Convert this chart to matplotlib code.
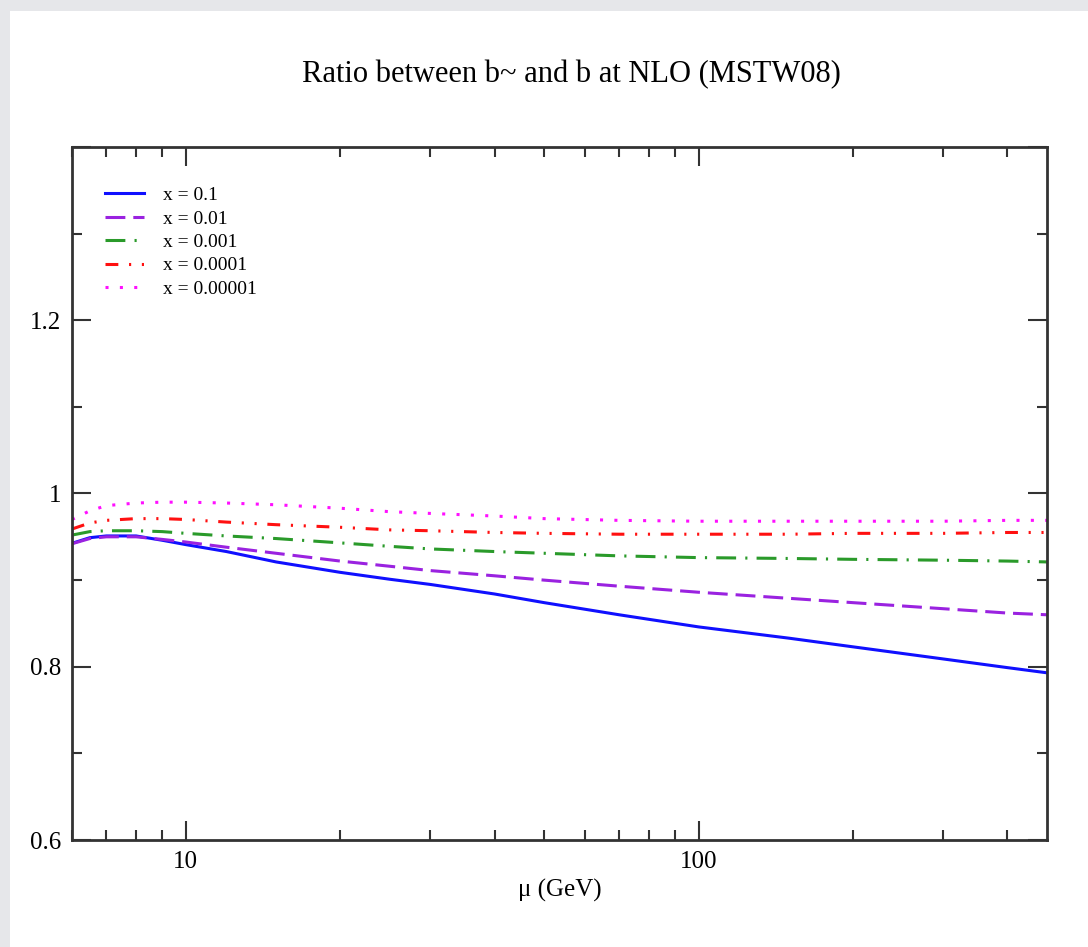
import numpy as np
import matplotlib.pyplot as plt
from matplotlib.patches import Rectangle
from matplotlib.ticker import LogLocator, NullFormatter, FixedLocator, MultipleLocator

plt.rcParams["font.family"] = ["Liberation Serif", "DejaVu Serif"]

# scale mu (GeV) and ratio b~/b for each x value
mu = [6, 6.5, 7, 8, 9, 10, 12, 15, 20, 25, 30, 40, 50, 70, 100, 150, 200, 300, 400, 478]
r_x01 = [0.9425, 0.949, 0.951, 0.951, 0.946, 0.941, 0.933, 0.921, 0.909, 0.901, 0.895,
         0.884, 0.874, 0.860, 0.846, 0.833, 0.823, 0.809, 0.799, 0.793]
r_x001 = [0.942, 0.948, 0.950, 0.950, 0.947, 0.944, 0.938, 0.931, 0.922, 0.916, 0.911,
          0.905, 0.900, 0.893, 0.886, 0.879, 0.874, 0.867, 0.862, 0.860]
r_x0001 = [0.952, 0.956, 0.957, 0.957, 0.956, 0.954, 0.951, 0.948, 0.943, 0.939, 0.936,
           0.933, 0.931, 0.928, 0.926, 0.925, 0.924, 0.923, 0.922, 0.921]
r_x00001 = [0.959, 0.966, 0.969, 0.971, 0.971, 0.970, 0.967, 0.964, 0.961, 0.958, 0.957,
            0.955, 0.954, 0.953, 0.953, 0.953, 0.954, 0.954, 0.955, 0.955]
r_x000001 = [0.970, 0.980, 0.986, 0.989, 0.990, 0.990, 0.989, 0.987, 0.983, 0.979, 0.977,
             0.974, 0.971, 0.969, 0.968, 0.968, 0.968, 0.968, 0.969, 0.969]

labels = ["x = 0.1", "x = 0.01", "x = 0.001", "x = 0.0001", "x = 0.00001"]

fig = plt.figure(figsize=(10.88, 9.47), dpi=100)
fig.patch.set_facecolor("#e6e7ea")
# white panel (screenshot look)
fig.patches.append(Rectangle((10 / 1088, 0), 1, 1 - 11 / 947, transform=fig.transFigure,
                             facecolor="white", edgecolor="none", zorder=-1))

ax = fig.add_axes([72 / 1088, 107 / 947, 975 / 1088, 693 / 947])
ax.set_facecolor("white")

lw = 2.2
ax.plot(mu, r_x01, color="#1010ff", lw=lw, label=labels[0])
ax.plot(mu, r_x001, color="#9a22e0", lw=lw, dashes=(6.5, 2.6), label=labels[1])
ax.plot(mu, r_x0001, color="#2a9a2a", lw=lw, dashes=(6.5, 3, 0.7, 3), label=labels[2])
ax.plot(mu, r_x00001, color="#ff1010", lw=lw, dashes=(4.2, 3.5, 0.7, 3.5, 0.7, 3.5), label=labels[3])
ax.plot(mu, r_x000001, color="#ff10ff", lw=lw, dashes=(1, 3.7), label=labels[4])

ax.set_xscale("log")
ax.set_xlim(6, 478)
ax.set_ylim(0.6, 1.4)

ax.xaxis.set_major_locator(FixedLocator([10, 100]))
ax.xaxis.set_major_formatter(plt.FuncFormatter(lambda v, p: "%d" % v))
ax.xaxis.set_minor_locator(LogLocator(base=10, subs=np.arange(2, 10)))
ax.xaxis.set_minor_formatter(NullFormatter())
ax.yaxis.set_major_locator(FixedLocator([0.6, 0.8, 1.0, 1.2, 1.4]))
ax.yaxis.set_major_formatter(plt.FuncFormatter(lambda v, p: "" if v > 1.3 else ("1" if abs(v - 1) < 1e-9 else "%g" % v)))
ax.yaxis.set_minor_locator(MultipleLocator(0.1))

ax.tick_params(which="both", direction="in", top=True, right=True, colors="#333333",
               labelcolor="black", labelsize=18, pad=8)
ax.tick_params(which="major", length=14, width=1.5)
ax.tick_params(which="minor", length=7, width=1.5)
for s in ax.spines.values():
    s.set_linewidth(2)
    s.set_color("#333333")

ax.set_xlabel("μ (GeV)", fontsize=18, labelpad=4)
fig.text(571 / 1088, 1 - 75 / 947, "Ratio between b~ and b at NLO (MSTW08)",
         ha="center", va="center", fontsize=22)

ax.legend(loc="upper left", bbox_to_anchor=(0.034, 0.943), frameon=False,
          fontsize=14, handlelength=2.0, handletextpad=1.0, labelspacing=0.3,
          borderpad=0, borderaxespad=0)

fig.savefig("out.png", dpi=100)
